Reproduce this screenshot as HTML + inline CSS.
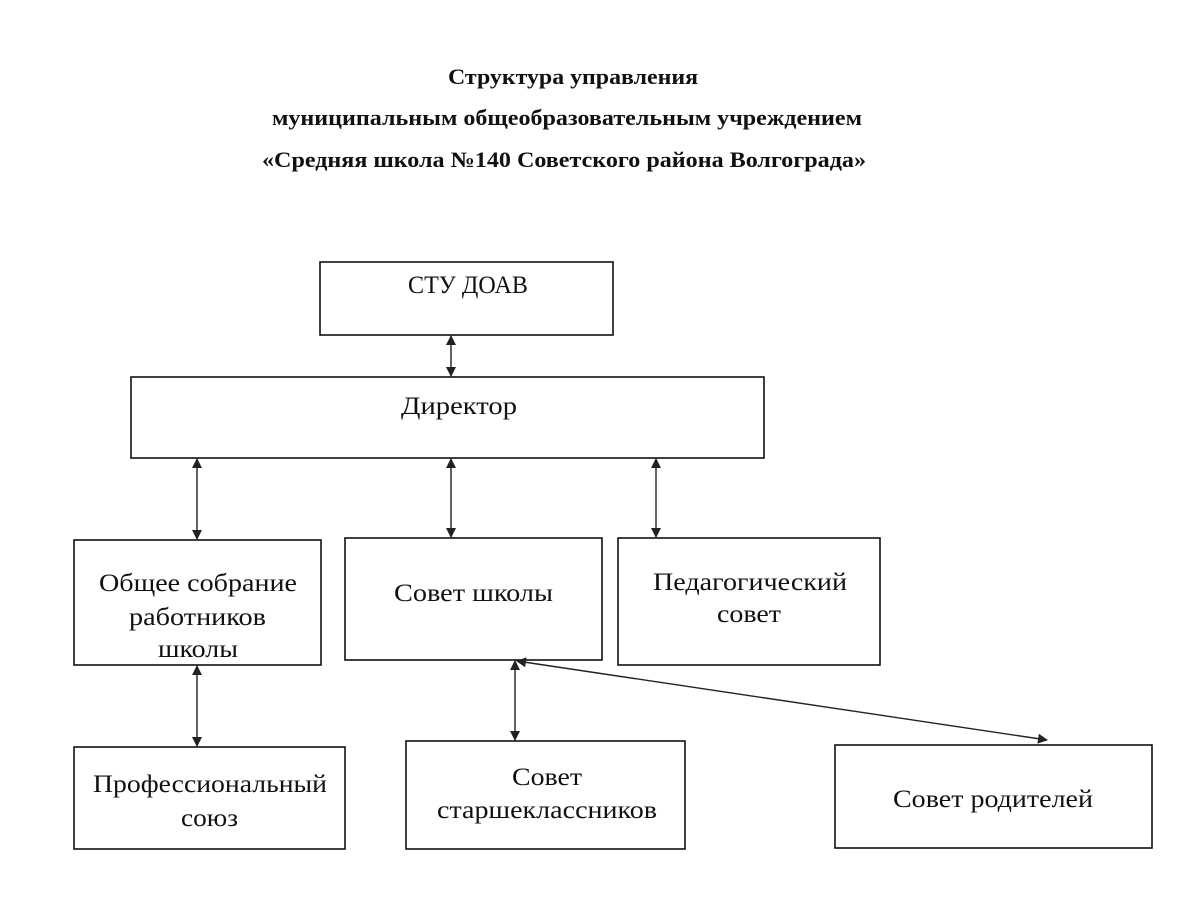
<!DOCTYPE html>
<html><head><meta charset="utf-8"><style>
html,body{margin:0;padding:0;background:#fff;}
svg{display:block;}
text{font-family:"Liberation Serif","DejaVu Serif",serif;fill:#111;}
.t{font-weight:bold;font-size:22px;}
.b{font-size:25px;}
rect{fill:none;stroke:#111;stroke-width:1.6;}
line{stroke:#222;stroke-width:1.4;}
</style></head><body>
<svg width="1190" height="918" viewBox="0 0 1190 918" xmlns="http://www.w3.org/2000/svg">
<defs>
<marker id="a" viewBox="0 0 10 10" refX="9" refY="5" markerWidth="10" markerHeight="10" markerUnits="userSpaceOnUse" orient="auto-start-reverse">
<path d="M0,0 L10,5 L0,10 z" fill="#222"/>
</marker>
</defs>
<text class="t" x="448" y="84" textLength="250" lengthAdjust="spacingAndGlyphs">Структура управления</text>
<text class="t" x="272" y="125" textLength="590" lengthAdjust="spacingAndGlyphs">муниципальным общеобразовательным учреждением</text>
<text class="t" x="262" y="167" textLength="604" lengthAdjust="spacingAndGlyphs">«Средняя школа №140 Советского района Волгограда»</text>

<rect x="320" y="262" width="293" height="73"/>
<text class="b" x="408" y="293" textLength="120" lengthAdjust="spacingAndGlyphs">СТУ ДОАВ</text>

<rect x="131" y="377" width="633" height="81"/>
<text class="b" x="401" y="414" textLength="116" lengthAdjust="spacingAndGlyphs">Директор</text>

<rect x="74" y="540" width="247" height="125"/>
<text class="b" x="99" y="591" textLength="198" lengthAdjust="spacingAndGlyphs">Общее собрание</text>
<text class="b" x="129" y="625" textLength="137" lengthAdjust="spacingAndGlyphs">работников</text>
<text class="b" x="158" y="657" textLength="80" lengthAdjust="spacingAndGlyphs">школы</text>

<rect x="345" y="538" width="257" height="122"/>
<text class="b" x="394" y="601" textLength="159" lengthAdjust="spacingAndGlyphs">Совет школы</text>

<rect x="618" y="538" width="262" height="127"/>
<text class="b" x="653" y="590" textLength="194" lengthAdjust="spacingAndGlyphs">Педагогический</text>
<text class="b" x="717" y="622" textLength="64" lengthAdjust="spacingAndGlyphs">совет</text>

<rect x="74" y="747" width="271" height="102"/>
<text class="b" x="93" y="792" textLength="234" lengthAdjust="spacingAndGlyphs">Профессиональный</text>
<text class="b" x="181" y="826" textLength="57" lengthAdjust="spacingAndGlyphs">союз</text>

<rect x="406" y="741" width="279" height="108"/>
<text class="b" x="512" y="785" textLength="70" lengthAdjust="spacingAndGlyphs">Совет</text>
<text class="b" x="437" y="818" textLength="220" lengthAdjust="spacingAndGlyphs">старшеклассников</text>

<rect x="835" y="745" width="317" height="103"/>
<text class="b" x="893" y="807" textLength="200" lengthAdjust="spacingAndGlyphs">Совет родителей</text>

<line x1="451" y1="336" x2="451" y2="376" marker-start="url(#a)" marker-end="url(#a)"/>
<line x1="197" y1="459" x2="197" y2="539" marker-start="url(#a)" marker-end="url(#a)"/>
<line x1="451" y1="459" x2="451" y2="537" marker-start="url(#a)" marker-end="url(#a)"/>
<line x1="656" y1="459" x2="656" y2="537" marker-start="url(#a)" marker-end="url(#a)"/>
<line x1="197" y1="666" x2="197" y2="746" marker-start="url(#a)" marker-end="url(#a)"/>
<line x1="515" y1="661" x2="515" y2="740" marker-start="url(#a)" marker-end="url(#a)"/>
<line x1="517" y1="661" x2="1047" y2="740" marker-start="url(#a)" marker-end="url(#a)"/>
</svg>
</body></html>
